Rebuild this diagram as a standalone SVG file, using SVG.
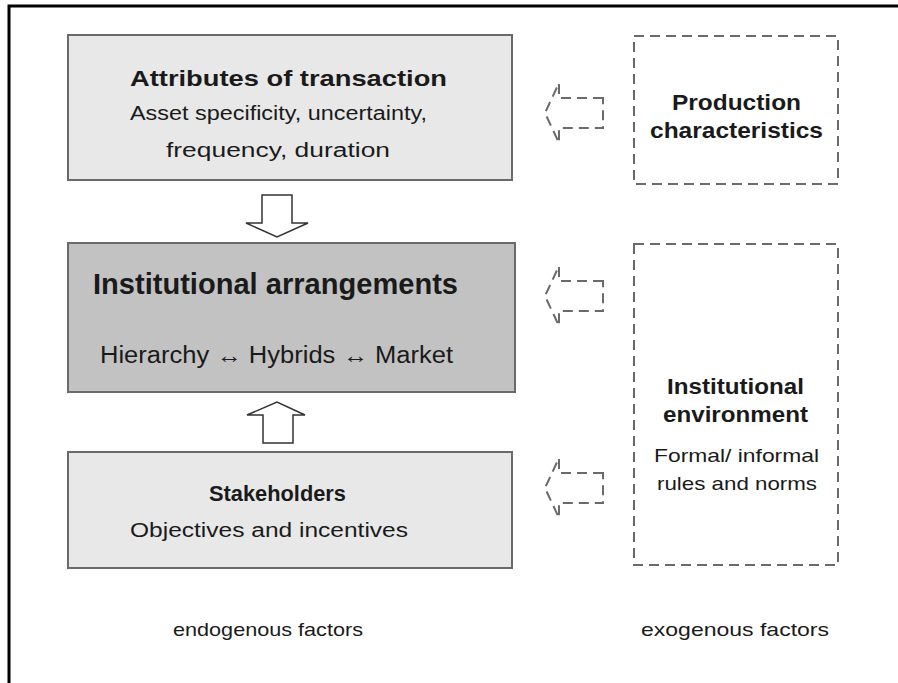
<svg xmlns="http://www.w3.org/2000/svg" width="898" height="683" viewBox="0 0 898 683">
<style>
text{font-family:"Liberation Sans",Arial,sans-serif;fill:#1a1a1a;text-anchor:middle}
.b{font-weight:bold}
.box{stroke:#6a6a6a;stroke-width:2}
.dash{fill:none;stroke:#6a6a6a;stroke-width:2;stroke-dasharray:10 6}
.blk{fill:#fff;stroke:#333;stroke-width:1.5}
</style>
<rect width="898" height="683" fill="#fff"/>
<path d="M9,683 V6 H898" fill="none" stroke="#000" stroke-width="3"/>
<g id="attributes">
<rect class="box" x="68" y="35" width="444" height="145" fill="#e8e8e8"/>
<text class="b" x="288.5" y="86" font-size="22.5" textLength="317" lengthAdjust="spacingAndGlyphs">Attributes of transaction</text>
<text x="278.5" y="120" font-size="20" textLength="297" lengthAdjust="spacingAndGlyphs">Asset specificity, uncertainty,</text>
<text x="278" y="157" font-size="20" textLength="224" lengthAdjust="spacingAndGlyphs">frequency, duration</text>
</g>
<g id="arrangements">
<rect class="box" x="68" y="243" width="447" height="149" fill="#c2c2c2"/>
<text class="b" x="275.5" y="294" font-size="29" textLength="365" lengthAdjust="spacingAndGlyphs">Institutional arrangements</text>
<text x="276.5" y="363" font-size="23" textLength="353" lengthAdjust="spacingAndGlyphs">Hierarchy ↔  Hybrids ↔ Market</text>
</g>
<g id="stakeholders">
<rect class="box" x="68" y="452" width="444" height="116" fill="#e8e8e8"/>
<text class="b" x="277.5" y="501" font-size="22" textLength="137" lengthAdjust="spacingAndGlyphs">Stakeholders</text>
<text x="269" y="537" font-size="20" textLength="278" lengthAdjust="spacingAndGlyphs">Objectives and incentives</text>
</g>
<g id="production">
<rect class="dash" x="634" y="36" width="204" height="148"/>
<text class="b" x="736.5" y="110" font-size="22" textLength="129" lengthAdjust="spacingAndGlyphs">Production</text>
<text class="b" x="736.5" y="138" font-size="22" textLength="173" lengthAdjust="spacingAndGlyphs">characteristics</text>
</g>
<g id="environment">
<rect class="dash" x="634" y="244" width="204" height="321"/>
<text class="b" x="735.5" y="394" font-size="22" textLength="137" lengthAdjust="spacingAndGlyphs">Institutional</text>
<text class="b" x="735.5" y="422" font-size="22" textLength="145" lengthAdjust="spacingAndGlyphs">environment</text>
<text x="736.5" y="462" font-size="19" textLength="165" lengthAdjust="spacingAndGlyphs">Formal/ informal</text>
<text x="737" y="490" font-size="19" textLength="160" lengthAdjust="spacingAndGlyphs">rules and norms</text>
</g>
<g id="connectors">
<path class="blk" d="M262,195 H292 V223 H308 L277,237 L246,223 H262 Z"/>
<path class="blk" d="M263,443 H293 V415 H305 L277,402 L247,415 H263 Z"/>
<path class="dash" stroke-dasharray="8 5" d="M603,98 H559 V83 L545,113 L559,143 V128 H603 Z"/>
<path class="dash" stroke-dasharray="8 5" d="M603,281 H559 V266 L545,296 L559,326 V311 H603 Z"/>
<path class="dash" stroke-dasharray="8 5" d="M603,473 H559 V458 L545,488 L559,518 V503 H603 Z"/>
</g>
<g id="labels">
<text x="268" y="636" font-size="18.5" textLength="190" lengthAdjust="spacingAndGlyphs">endogenous factors</text>
<text x="735" y="636" font-size="18.5" textLength="188" lengthAdjust="spacingAndGlyphs">exogenous factors</text>
</g>
</svg>
